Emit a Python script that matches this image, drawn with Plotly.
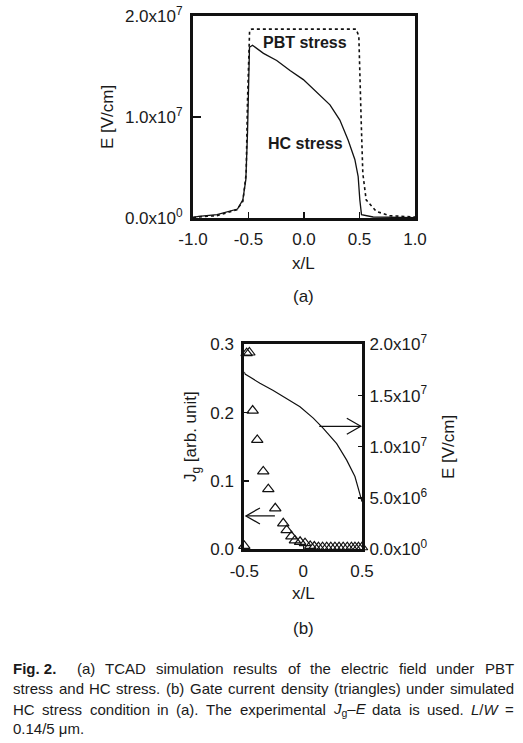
import re
import plotly.graph_objects as go

# ---------------- data: panel (a) ----------------
hc_x = [-1.0, -0.949, -0.784, -0.65, -0.599, -0.551, -0.524, -0.509, -0.5, -0.491, -0.464,
        -0.365, -0.246, -0.126, -0.006, 0.114, 0.234, 0.323, 0.398, 0.458, 0.488, 0.503,
        0.518, 0.623, 0.8, 1.0]
hc_e = [0.05e6, 0.16e6, 0.33e6, 0.7e6, 0.89e6, 1.8e6, 3.8e6, 8.4e6, 13.3e6, 16.9e6, 17.1e6,
        16.3e6, 15.6e6, 14.6e6, 13.7e6, 12.5e6, 11.2e6, 9.7e6, 7.7e6, 5.8e6, 4.1e6, 1.8e6,
        0.33e6, 0.1e6, 0.05e6, 0.03e6]

pbt_x = [-1.0, -0.964, -0.784, -0.605, -0.551, -0.521, -0.509, -0.5, -0.49, -0.47, -0.2,
         0.2, 0.47, 0.494, 0.506, 0.515, 0.53, 0.56, 0.65, 0.77, 1.0]
pbt_e = [0.05e6, 0.1e6, 0.23e6, 0.82e6, 1.65e6, 4.4e6, 11.6e6, 16.6e6, 18.6e6, 18.7e6, 18.7e6,
         18.7e6, 18.7e6, 18.0e6, 11.8e6, 9.7e6, 4.4e6, 1.8e6, 0.66e6, 0.23e6, 0.1e6]

e_ticks = [0, 1e7, 2e7]
e_ticktext = ["0.0x10<sup>0</sup>", "1.0x10<sup>7</sup>", "2.0x10<sup>7</sup>"]
xa_ticks = [-1.0, -0.5, 0.0, 0.5, 1.0]
xa_ticktext = ["-1.0", "-0.5", "0.0", "0.5", "1.0"]

# ---------------- data: panel (b) ----------------
eb_x = [-0.5, -0.494, -0.452, -0.367, -0.254, -0.14, -0.027, 0.086, 0.171, 0.285, 0.37,
        0.44, 0.483, 0.5]
eb_e = [17.3e6, 17.1e6, 16.8e6, 16.2e6, 15.5e6, 14.7e6, 13.9e6, 12.8e6, 11.8e6, 10.3e6,
        8.7e6, 7.1e6, 5.5e6, 4.65e6]

jg_x = [-0.5, -0.48, -0.457, -0.429, -0.39, -0.339, -0.296, -0.237, -0.169, -0.14, -0.10,
        -0.07, -0.026, 0.016, 0.06, 0.095, 0.13, 0.165, 0.2, 0.235, 0.27, 0.305, 0.34,
        0.375, 0.41, 0.44, 0.47, 0.5]
jg_y = [0.005, 0.287, 0.288, 0.203, 0.16, 0.114, 0.088, 0.06, 0.038, 0.028, 0.019,
        0.013, 0.011, 0.009, 0.005, 0.004, 0.003, 0.003, 0.003, 0.003, 0.003, 0.003, 0.003,
        0.003, 0.003, 0.003, 0.003, 0.003]

jg_ticks = [0.0, 0.1, 0.2, 0.3]
jg_ticktext = ["0.0", "0.1", "0.2", "0.3"]
eb_ticks = [0, 5e6, 1e7, 1.5e7, 2e7]
eb_ticktext = ["0.0x10<sup>0</sup>", "5.0x10<sup>6</sup>", "1.0x10<sup>7</sup>",
               "1.5x10<sup>7</sup>", "2.0x10<sup>7</sup>"]
xb_ticks = [-0.5, 0, 0.5]
xb_ticktext = ["-0.5", "0", "0.5"]

# arrows in panel (b): (tail x, tip x, level)
arrow_e = (0.137, 0.49, 1.2e7)      # points to the right (E axis)
arrow_jg = (-0.24, -0.486, 0.0488)  # points to the left (Jg axis)

caption_lines = [
    ["<b>Fig. 2.</b>", "(a)", "TCAD", "simulation", "results", "of", "the", "electric",
     "field", "under", "PBT"],
    ["stress", "and", "HC", "stress.", "(b)", "Gate", "current", "density", "(triangles)",
     "under", "simulated"],
    ["HC", "stress", "condition", "in", "(a).", "The", "experimental",
     "<i>J</i><sub>g</sub>–<i>E</i>", "data", "is", "used.", "<i>L</i>/<i>W</i>", "="],
    ["0.14/5 μm."],
]
caption_justify = [True, True, True, False]

W, H = 523, 743
FONT = "Liberation Sans, Arial, Helvetica, sans-serif"
TXT = "#1a1a1a"
CAP_SIZE = 15.0
CAP_LEFT, CAP_RIGHT = 12, 513
cap_y = [668, 688, 709, 728]

# Arial / Liberation Sans advance widths (1/1000 em)
_AW = {" ": 278, "(": 333, ")": 333, ".": 278, "/": 278, "=": 584, "–": 556, "μ": 576,
       "-": 333}
for c in "0123456789":
    _AW[c] = 556
_AW.update(dict(zip("abcdefghijklmnopqrstuvwxyz",
                    [556, 556, 500, 556, 556, 278, 556, 556, 222, 222, 500, 222, 833,
                     556, 556, 556, 556, 333, 500, 278, 556, 500, 722, 500, 500, 500])))
_AW.update(dict(zip("ABCDEFGHIJKLMNOPQRSTUVWXYZ",
                    [667, 667, 722, 722, 667, 611, 778, 722, 278, 500, 667, 556, 833,
                     722, 778, 667, 778, 722, 667, 611, 722, 667, 944, 667, 667, 611])))
_BOLD = {"F": 611, "i": 278, "g": 611, ".": 278, " ": 278, "2": 556}


def text_width(html, size):
    w = 0.0
    scale = 1.0
    bold = False
    for part in re.split(r"(<[^>]+>)", html):
        if part.startswith("<"):
            tag = part.strip("<>/").lower()
            closing = part.startswith("</")
            if tag in ("sub", "sup"):
                scale = 1.0 if closing else 0.7
            elif tag == "b":
                bold = not closing
            continue
        for ch in part:
            table = _BOLD if bold and ch in _BOLD else _AW
            w += table.get(ch, 556) * scale
    return w / 1000.0 * size


def px(x):
    return x / W


def py(y):
    return 1 - y / H


fig = go.Figure()

# panel (a)
fig.add_trace(go.Scatter(x=pbt_x, y=pbt_e, mode="lines",
                         line=dict(color="#111", width=1.6, dash="dot"),
                         xaxis="x", yaxis="y", showlegend=False))
fig.add_trace(go.Scatter(x=hc_x, y=hc_e, mode="lines",
                         line=dict(color="#111", width=1.3),
                         xaxis="x", yaxis="y", showlegend=False))

# panel (b)
fig.add_trace(go.Scatter(x=eb_x, y=eb_e, mode="lines",
                         line=dict(color="#111", width=1.2),
                         xaxis="x2", yaxis="y3", showlegend=False))
fig.add_trace(go.Scatter(x=jg_x, y=jg_y, mode="markers",
                         marker=dict(symbol="triangle-up-open", size=10, color="#111",
                                     line=dict(width=1.2)),
                         cliponaxis=False,
                         xaxis="x2", yaxis="y2", showlegend=False))

axis_common = dict(showline=True, linecolor="#111", linewidth=3, mirror=True,
                   showgrid=False, zeroline=False, automargin=False,
                   tickfont=dict(family=FONT, size=17, color=TXT),
                   ticks="inside", tickcolor="#111", tickwidth=1.2)

XB_DOM = [244.3, 362]
YB_DOM = [549.3, 344.3]

fig.update_layout(
    width=W, height=H,
    margin=dict(l=0, r=0, t=0, b=0, pad=0, autoexpand=False),
    paper_bgcolor="white", plot_bgcolor="white",
    font=dict(family=FONT, color=TXT),
    hovermode=False,
    xaxis=dict(domain=[px(193), px(415)], range=[-1, 1], anchor="y",
               tickvals=xa_ticks, ticktext=xa_ticktext, ticklen=6,
               ticklabelstandoff=4, **axis_common),
    yaxis=dict(domain=[py(218), py(16)], range=[0, 2e7], anchor="x",
               tickvals=e_ticks, ticktext=e_ticktext, ticklen=8,
               ticklabelstandoff=4, **axis_common),
    xaxis2=dict(domain=[px(XB_DOM[0]), px(XB_DOM[1])], range=[-0.5, 0.5], anchor="y2",
                tickvals=xb_ticks, ticktext=xb_ticktext, ticklen=4,
                ticklabelstandoff=4, **axis_common),
    yaxis2=dict(domain=[py(YB_DOM[0]), py(YB_DOM[1])], range=[0, 0.3], anchor="x2",
                tickvals=jg_ticks, ticktext=jg_ticktext, ticklen=5,
                ticklabelstandoff=4, **axis_common),
    yaxis3=dict(domain=[py(YB_DOM[0]), py(YB_DOM[1])], range=[0, 2e7], anchor="x2",
                overlaying="y2", side="right",
                tickvals=eb_ticks, ticktext=eb_ticktext, ticklen=4,
                ticklabelstandoff=1,
                **{k: v for k, v in axis_common.items() if k != "mirror"}),
)

ann = []


def label(text, x, y, size=17, angle=0, xanchor="center", bold=False):
    ann.append(dict(text=f"<b>{text}</b>" if bold else text, x=px(x), y=py(y),
                    xref="paper", yref="paper", showarrow=False,
                    xanchor=xanchor, yanchor="middle", textangle=angle,
                    borderpad=0, font=dict(family=FONT, size=size, color=TXT)))


# panel (a) labels
label("PBT stress", 305, 43, size=16, bold=True)
label("HC stress", 305, 143, size=16, bold=True)
label("E [V/cm]", 108, 117, angle=-90)
label("x/L", 303, 263)
label("(a)", 303, 297)

# panel (b) labels
label("J<sub>g</sub> [arb. unit]", 192, 437, angle=-90)
label("E [V/cm]", 448, 447, angle=-90)
label("x/L", 303, 593)
label("(b)", 303, 628)

# caption: justified, word by word
for words, just, yy in zip(caption_lines, caption_justify, cap_y):
    widths = [text_width(w, CAP_SIZE) for w in words]
    if just and len(words) > 1:
        weights = [2.0 if (i == 0 and "<b>" in words[0]) else 1.0
                   for i in range(len(words) - 1)]
        gap_unit = (CAP_RIGHT - CAP_LEFT - sum(widths)) / sum(weights)
        gaps = [g * gap_unit for g in weights]
    else:
        gaps = [0.278 * CAP_SIZE] * (len(words) - 1)
    pos = CAP_LEFT
    for i, (w, wd) in enumerate(zip(words, widths)):
        label(w, pos, yy, size=CAP_SIZE, xanchor="left")
        if i < len(gaps):
            pos += wd + gaps[i]

fig.update_layout(annotations=ann)

# arrows drawn as thin shaft + open chevron head
xb_scale = (XB_DOM[1] - XB_DOM[0]) / 1.0          # px per x unit
y3_scale = (YB_DOM[0] - YB_DOM[1]) / 2e7          # px per E unit
y2_scale = (YB_DOM[0] - YB_DOM[1]) / 0.3          # px per Jg unit
HEAD_LEN, HEAD_HALF = 14, 8
shapes = []
for (tail, tip, lvl), yref, ysc in ((arrow_e, "y3", y3_scale), (arrow_jg, "y2", y2_scale)):
    direction = 1 if tip > tail else -1
    back = tip - direction * HEAD_LEN / xb_scale
    dy = HEAD_HALF / ysc
    shapes.append(dict(type="line", xref="x2", yref=yref, x0=tail, x1=tip, y0=lvl, y1=lvl,
                       line=dict(color="#111", width=1.3)))
    shapes.append(dict(type="path", xref="x2", yref=yref,
                       path=f"M {back},{lvl + dy} L {tip},{lvl} L {back},{lvl - dy}",
                       line=dict(color="#111", width=1.3)))
fig.update_layout(shapes=shapes)

fig.write_html("out.html", config={"displayModeBar": False, "staticPlot": True},
               post_script="document.body.style.margin='0';")
